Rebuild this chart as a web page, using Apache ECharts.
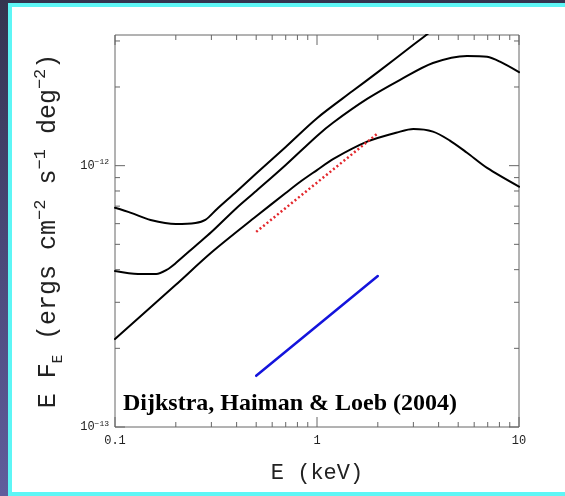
<!DOCTYPE html>
<html>
<head>
<meta charset="utf-8">
<script src="https://cdn.jsdelivr.net/npm/echarts@6/dist/echarts.min.js"></script>
<style>
  html, body { margin: 0; padding: 0; overflow: hidden; }
  body {
    width: 565px; height: 496px; position: relative;
    background: linear-gradient(to bottom, #34344f 0%, #4a4878 50%, #605d9c 100%);
  }
  #panel {
    position: absolute; left: 8px; top: 3px; width: 561px; height: 493px;
    box-sizing: border-box; background: #fff;
    border-top: 4px solid #5ef6f6; border-left: 4px solid #5ef6f6; border-bottom: 4px solid #5ef6f6;
  }
  #chart { position: absolute; left: 0; top: 0; width: 565px; height: 496px; }
</style>
</head>
<body>
<div id="panel"></div>
<div id="chart"></div>
<script>
// Photon energy (keV) and E·F_E (1e-13 ergs cm^-2 s^-1 deg^-2) for each model curve
const energyUpper = [0.1, 0.12, 0.15, 0.2, 0.25, 0.28, 0.32, 0.4, 0.5, 0.7, 1.0, 1.5, 2.0, 3.0, 4.0];
const fluxUpper   = [6.9, 6.6, 6.2, 5.98, 6.03, 6.2, 6.83, 7.97, 9.34, 11.8, 15.2, 19.3, 22.8, 29.0, 34.4];

const energyMiddle = [0.1, 0.13, 0.16, 0.18, 0.2, 0.25, 0.3, 0.4, 0.5, 0.7, 1.0, 1.2, 1.77, 2.58, 3.75, 5.53, 6.95, 8.05, 10];
const fluxMiddle   = [3.95, 3.85, 3.85, 3.99, 4.24, 4.93, 5.57, 6.89, 8.0, 10.06, 13.0, 14.6, 18.0, 21.3, 24.7, 26.3, 26.1, 25.0, 22.8];

const energyLower = [0.1, 0.2, 0.3, 0.5, 0.7, 0.823, 1.0, 1.2, 1.77, 2.58, 3.0, 3.75, 4.53, 5.53, 6.95, 10];
const fluxLower   = [2.17, 3.5, 4.65, 6.4, 7.86, 8.66, 9.62, 10.6, 12.36, 13.5, 13.8, 13.5, 12.5, 11.2, 9.8, 8.31];

// Power-law segments
const energyRed  = [0.5, 2.0];
const fluxRed    = [5.58, 13.3];
const energyBlue = [0.5, 2.0];
const fluxBlue   = [1.57, 3.78];

const FLUX_UNIT = 1e-13;

// Axis ranges and tick marks
const xRange = [0.1, 10];
const yRange = [1e-13, Math.pow(10, -11.5)];
const xMajorTicks = [0.1, 1, 10];
const xMinorTicks = [0.2, 0.3, 0.4, 0.5, 0.6, 0.7, 0.8, 0.9, 2, 3, 4, 5, 6, 7, 8, 9];
const yMajorTicks = [1e-13, 1e-12];
const yMinorTicks = [2e-13, 3e-13, 4e-13, 5e-13, 6e-13, 7e-13, 8e-13, 9e-13, 2e-12, 3e-12];
const xTickLabels = ['0.1', '1', '10'];
const yTickExponents = ['−13', '−12'];

const citation = 'Dijkstra, Haiman & Loeb (2004)';

function pairs(es, fs) {
  return es.map((e, i) => [e, fs[i] * FLUX_UNIT]);
}

function nearestIndex(list, v) {
  let best = 0;
  list.forEach((t, i) => {
    if (Math.abs(Math.log10(t) - Math.log10(v)) < Math.abs(Math.log10(list[best]) - Math.log10(v))) best = i;
  });
  return Math.abs(Math.log10(list[best]) - Math.log10(v)) < 1e-6 ? best : -1;
}

const MONO = '"Liberation Mono", "DejaVu Sans Mono", monospace';
const AXIS_COLOR = '#666';

// Inward tick marks on both opposite sides of the frame
function xTickSeries(values, len) {
  return {
    type: 'custom', silent: true, z: 5,
    data: values.map(v => [v, yRange[0]]),
    renderItem(params, api) {
      const p = api.coord([api.value(0), yRange[0]]);
      const r = params.coordSys;
      const bottom = r.y + r.height;
      return {
        type: 'group',
        children: [
          { type: 'line', shape: { x1: p[0], y1: bottom, x2: p[0], y2: bottom - len }, style: { stroke: AXIS_COLOR, lineWidth: 1 } },
          { type: 'line', shape: { x1: p[0], y1: r.y, x2: p[0], y2: r.y + len }, style: { stroke: AXIS_COLOR, lineWidth: 1 } }
        ]
      };
    }
  };
}
function yTickSeries(values, len) {
  return {
    type: 'custom', silent: true, z: 5,
    data: values.map(v => [xRange[0], v]),
    renderItem(params, api) {
      const p = api.coord([xRange[0], api.value(1)]);
      const r = params.coordSys;
      const right = r.x + r.width;
      return {
        type: 'group',
        children: [
          { type: 'line', shape: { x1: r.x, y1: p[1], x2: r.x + len, y2: p[1] }, style: { stroke: AXIS_COLOR, lineWidth: 1 } },
          { type: 'line', shape: { x1: right, y1: p[1], x2: right - len, y2: p[1] }, style: { stroke: AXIS_COLOR, lineWidth: 1 } }
        ]
      };
    }
  };
}

function curve(es, fs, color, width, type, smooth) {
  const dashed = Array.isArray(type);
  return {
    type: 'line', data: pairs(es, fs), showSymbol: false, symbol: 'none',
    smooth: smooth || false, clip: true, z: 3,
    lineStyle: { color: color, width: width, type: type || 'solid', join: 'round', cap: dashed ? 'butt' : 'round' },
    emphasis: { disabled: true }
  };
}

const chart = echarts.init(document.getElementById('chart'), null, { renderer: 'canvas' });

chart.setOption({
  animation: false,
  backgroundColor: 'transparent',
  grid: { left: 115, top: 35, width: 404, height: 392, show: true, borderColor: AXIS_COLOR, borderWidth: 1, backgroundColor: 'transparent' },
  xAxis: {
    type: 'log', logBase: 10, min: xRange[0], max: xRange[1],
    axisLine: { show: false }, axisTick: { show: false }, splitLine: { show: false },
    axisLabel: {
      margin: 8, fontFamily: MONO, fontSize: 12, color: '#222',
      formatter: v => { const i = nearestIndex(xMajorTicks, v); return i < 0 ? '' : xTickLabels[i]; }
    },
    name: 'E (keV)', nameLocation: 'middle', nameGap: 35,
    nameTextStyle: { fontFamily: MONO, fontSize: 22, color: '#222' }
  },
  yAxis: {
    type: 'log', logBase: 10, min: yRange[0], max: yRange[1],
    axisLine: { show: false }, axisTick: { show: false }, splitLine: { show: false },
    axisLabel: {
      margin: 6, fontFamily: MONO, fontSize: 12, color: '#222',
      formatter: v => { const i = nearestIndex(yMajorTicks, v); return i < 0 ? '' : '10{sup|' + yTickExponents[i] + '}'; },
      rich: { sup: { fontFamily: MONO, fontSize: 8, verticalAlign: 'top', color: '#222', lineHeight: 15 } }
    },
    name: 'E F{sub|E} (ergs cm{sup|−2} s{sup|−1} deg{sup|−2})',
    nameLocation: 'middle', nameRotate: 90, nameGap: 50,
    nameTextStyle: {
      fontFamily: MONO, fontSize: 25, color: '#222', lineHeight: 33,
      rich: {
        sup: { fontFamily: MONO, fontSize: 17, color: '#222', verticalAlign: 'top', lineHeight: 33 },
        sub: { fontFamily: MONO, fontSize: 14, color: '#222', verticalAlign: 'bottom', lineHeight: 33 }
      }
    }
  },
  series: [
    curve(energyUpper, fluxUpper, '#000', 2, 'solid', 0.3),
    curve(energyMiddle, fluxMiddle, '#000', 2, 'solid', 0.3),
    curve(energyLower, fluxLower, '#000', 2, 'solid', 0.3),
    curve(energyRed, fluxRed, '#e3262b', 2.5, [2, 2.5]),
    curve(energyBlue, fluxBlue, '#1414dc', 2.5),
    xTickSeries(xMajorTicks, 10),
    xTickSeries(xMinorTicks, 5),
    yTickSeries(yMajorTicks, 10),
    yTickSeries(yMinorTicks, 5)
  ],
  graphic: [
    {
      type: 'text', x: 123, y: 404, z: 10, silent: true,
      style: { text: citation, font: 'bold 24px "Liberation Serif", "Times New Roman", serif', fill: '#000', verticalAlign: 'middle', align: 'left' }
    }
  ]
});
</script>
</body>
</html>
